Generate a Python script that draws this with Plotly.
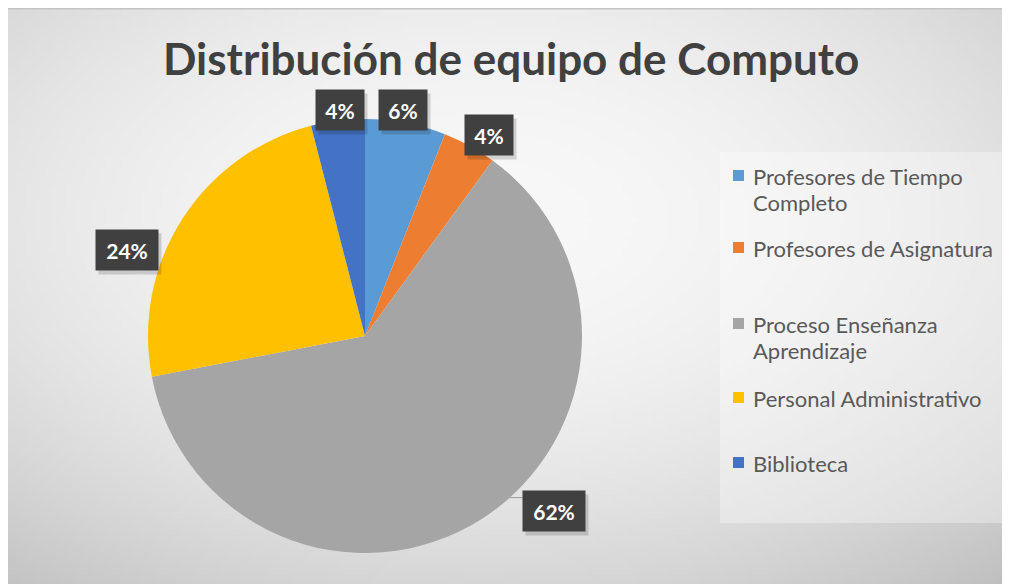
import math, struct, zlib, base64
import plotly.graph_objects as go

# ---------------- data ----------------
categories = ["Profesores de Tiempo Completo", "Profesores de Asignatura",
              "Proceso Enseñanza Aprendizaje", "Personal Administrativo", "Biblioteca"]
values = [6, 4, 62, 24, 4]
legend_labels = ["Profesores de Tiempo<br>Completo", "Profesores de Asignatura",
                 "Proceso Enseñanza<br>Aprendizaje", "Personal Administrativo", "Biblioteca"]
colors = ["#5B9BD5", "#ED7D31", "#A5A5A5", "#FFC000", "#4472C4"]
title_text = "Distribución de equipo de Computo"

# ---------------- layout constants (page px) ----------------
W, H = 1010, 584
OFF = 8                              # page body margin
CX, CY, R = 365, 336, 217            # pie centre / radius
FONT = "Lato"
lab_dang = [-1.3, 2.9, -14.8, -12.5, 0.9]
lab_dist = [229, 236, 257, 253, 227]
legend_capmid = [175.5, 247.5, 323.5, 397.5, 462.5]
LINE_GAP = 26


def px(x):
    return (x - OFF) / W


def py(y):
    return 1 - (y - OFF) / H


def png_uri(w, h, fn):
    raw = bytearray()
    for j in range(h):
        raw.append(0)
        for i in range(w):
            v = fn(i / (w - 1), j / (h - 1))
            raw += bytes((v, v, v))

    def chunk(t, d):
        c = struct.pack('>I', len(d)) + t + d
        return c + struct.pack('>I', zlib.crc32(t + d) & 0xffffffff)
    png = (b'\x89PNG\r\n\x1a\n' + chunk(b'IHDR', struct.pack('>IIBBBBB', w, h, 8, 2, 0, 0, 0))
           + chunk(b'IDAT', zlib.compress(bytes(raw), 9)) + chunk(b'IEND', b''))
    return 'data:image/png;base64,' + base64.b64encode(png).decode()


def grad(u, v):
    d2 = (u - 0.47) ** 2 + (v - 0.36) ** 2
    val = 248 - 85 * d2
    return int(max(190, min(255, val)))


bg = png_uri(200, 116, grad)

fig = go.Figure(go.Pie(
    labels=categories, values=values, sort=False, direction="clockwise", rotation=0,
    marker=dict(colors=colors, line=dict(width=0)), textinfo="none", hoverinfo="label+percent",
    showlegend=False,
    domain=dict(x=[px(CX - R), px(CX + R)], y=[py(CY + R), py(CY - R)]),
))

shapes = []
annotations = []

# top border of chart area
shapes.append(dict(type="line", xref="paper", yref="paper", x0=0, x1=1, y0=py(OFF + 0.75), y1=py(OFF + 0.75),
                   line=dict(color="#C4C4C4", width=1.5)))

# data labels
total = sum(values)
cum = 0
for i, v in enumerate(values):
    mid = (cum + v / 2) / total * 360
    cum += v
    ang = math.radians(mid + lab_dang[i])
    lx = CX + lab_dist[i] * math.sin(ang)
    ly = CY - lab_dist[i] * math.cos(ang)
    txt = f"{round(v / total * 100)}%"
    bw = 34 if len(txt) == 2 else 48
    annotations.append(dict(x=px(lx + 3), y=py(ly + 4), xref="paper", yref="paper", text=" ",
                            showarrow=False, width=bw, height=26, borderpad=7,
                            bgcolor="rgba(0,0,0,0.15)", xanchor="center", yanchor="middle"))
    annotations.append(dict(x=px(lx), y=py(ly), xref="paper", yref="paper", text=f"<b>{txt}</b>",
                            showarrow=False, width=bw, height=26, borderpad=7,
                            bgcolor="#404040", font=dict(family=FONT, size=21, color="white"),
                            xanchor="center", yanchor="middle"))
    if txt == "62%":
        yl = ly - 13
        xe = CX + math.sqrt(R ** 2 - (yl - CY) ** 2)
        shapes.append(dict(type="line", xref="paper", yref="paper", x0=px(xe), x1=px(lx - bw / 2 - 7),
                           y0=py(yl), y1=py(yl), line=dict(color="#9A9A9A", width=1)))

# legend box
shapes.append(dict(type="rect", xref="paper", yref="paper", x0=px(720), x1=px(1007), y0=py(523), y1=py(152),
                   fillcolor="rgba(255,255,255,0.33)", line=dict(width=0), layer="below"))
for i, lab in enumerate(legend_labels):
    cm = legend_capmid[i]
    shapes.append(dict(type="rect", xref="paper", yref="paper", x0=px(733), x1=px(744),
                       y0=py(cm + 5.5), y1=py(cm - 5.5), fillcolor=colors[i], line=dict(width=0)))
    for k, line in enumerate(lab.split("<br>")):
        annotations.append(dict(x=px(751), y=py(cm + 1 + k * LINE_GAP), xref="paper", yref="paper", text=line,
                                showarrow=False, xanchor="left", yanchor="middle", align="left",
                                font=dict(family=FONT, size=22, color="#595959")))

# title
annotations.append(dict(x=px(511), y=py(58), xref="paper", yref="paper", text=f"<b>{title_text}</b>",
                        showarrow=False, xanchor="center", yanchor="middle",
                        font=dict(family=FONT, size=44, color="#404040")))

fig.update_layout(
    width=W, height=H, margin=dict(l=0, r=0, t=0, b=0), paper_bgcolor="white",
    images=[dict(source=bg, xref="paper", yref="paper", x=0, y=1, sizex=1, sizey=1,
                 sizing="stretch", layer="below", xanchor="left", yanchor="top")],
    shapes=shapes, annotations=annotations,
)
fig.write_html("out.html")
